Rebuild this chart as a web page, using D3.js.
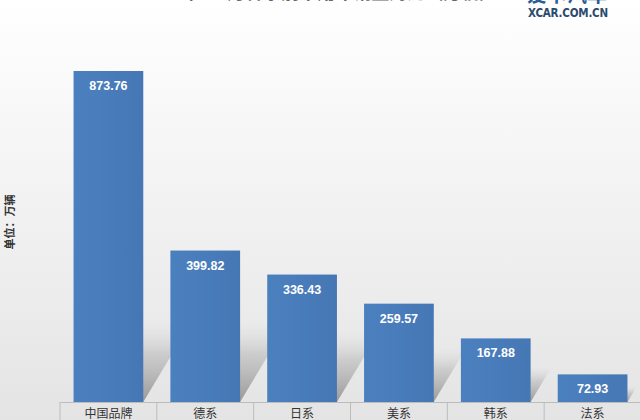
<!DOCTYPE html>
<html><head><meta charset="utf-8">
<script src="https://cdn.jsdelivr.net/npm/d3@7"></script>
<style>html,body{margin:0;padding:0;background:#fff;}svg{display:block;}</style>
</head><body>
<svg id="c" width="640" height="420"></svg>
<script>
const categories = ["中国品牌","德系","日系","美系","韩系","法系"];
const values = [873.76, 399.82, 336.43, 259.57, 167.88, 72.93];
const title = "2016年1-9月各系别乘用车销量对比（万辆）";
const yLabel = "单位：万辆";

const W = 640, H = 420;
const svg = d3.select("#c");
const defs = svg.append("defs");
const bg = defs.append("linearGradient").attr("id","bg").attr("x1",0).attr("y1",0).attr("x2",0).attr("y2",1);
bg.append("stop").attr("offset","0%").attr("stop-color","#ffffff");
bg.append("stop").attr("offset","100%").attr("stop-color","#e4e4e4");
const sh = defs.append("linearGradient").attr("id","sh").attr("x1",0).attr("y1",1).attr("x2",0).attr("y2",0);
sh.append("stop").attr("offset","0%").attr("stop-color","#8c8c8c").attr("stop-opacity",0.85);
sh.append("stop").attr("offset","60%").attr("stop-color","#aaaaaa").attr("stop-opacity",0.45);
sh.append("stop").attr("offset","100%").attr("stop-color","#d0d0d0").attr("stop-opacity",0);
const barG = defs.append("linearGradient").attr("id","barg").attr("x1",0).attr("y1",0).attr("x2",1).attr("y2",0);
barG.append("stop").attr("offset","0%").attr("stop-color","#4b80bf");
barG.append("stop").attr("offset","100%").attr("stop-color","#4677b5");

svg.append("rect").attr("width",W).attr("height",H).attr("fill","url(#bg)");

const x = d3.scaleBand().domain(categories).range([60, 641]).paddingInner(0.28).paddingOuter(0.14);
const xb = d3.scaleBand().domain(categories).range([60, 641]);
const y = d3.scaleLinear().domain([0, 873.76]).range([402, 71]);

// perspective shadows (sheared to the upper right)
const g = svg.append("g");
g.selectAll("path.sh").data(values).join("path")
  .attr("fill","url(#sh)")
  .attr("d",(d,i)=>{
    const x0 = x(categories[i]), bw = x.bandwidth(), b = y(0);
    const hgt = Math.min((b - y(d)) * 0.55, 80);
    const dx = hgt*0.6;
    return `M${x0},${b} L${x0+bw},${b} L${x0+bw+dx},${b-hgt} L${x0+dx},${b-hgt} Z`;
  });

// bars
g.selectAll("rect.bar").data(values).join("rect")
  .attr("x",(d,i)=>x(categories[i])).attr("width",x.bandwidth())
  .attr("y",d=>y(d)).attr("height",d=>y(0)-y(d))
  .attr("fill","url(#barg)");

g.selectAll("text.v").data(values).join("text")
  .attr("x",(d,i)=>x(categories[i])+x.bandwidth()/2)
  .attr("y",d=>y(d)+19)
  .attr("text-anchor","middle").attr("fill","#fff")
  .attr("font-family","'Liberation Sans', Arial, sans-serif").attr("font-weight","bold").attr("font-size",12.5)
  .text(d=>d.toFixed(2));

// axis
const axis = d3.axisBottom(xb).tickSize(0).tickPadding(7);
const ax = svg.append("g").attr("transform","translate(0,402)").call(axis);
ax.select(".domain").attr("stroke","#bcbcbc");
ax.selectAll("text").attr("font-family","'Noto Sans CJK SC', sans-serif").attr("font-size",12).attr("fill","#333");
svg.append("g").selectAll("line").data(categories.concat(["_end"])).join("line")
  .attr("x1",(d,i)=>60+i*xb.step()).attr("x2",(d,i)=>60+i*xb.step())
  .attr("y1",402).attr("y2",420).attr("stroke","#bcbcbc");

// y label
svg.append("text").attr("transform","translate(14,222) rotate(-90)")
  .attr("text-anchor","middle").attr("font-family","'Noto Sans CJK SC', sans-serif")
  .attr("font-weight","bold").attr("font-size",11).attr("fill","#333").text(yLabel);

// title (cut off at top)
svg.append("text").attr("x",318).attr("y",-1).attr("text-anchor","middle")
  .attr("font-family","'Noto Sans CJK SC', sans-serif").attr("font-weight","bold")
  .attr("font-size",18).attr("fill","#666").text(title);

// logo
svg.append("text").attr("x",567).attr("y",2).attr("text-anchor","middle")
  .attr("font-family","'Noto Sans CJK SC', sans-serif").attr("font-weight","bold")
  .attr("font-size",20).attr("fill","#2c5d94").text("爱卡汽车");
svg.append("text").attr("x",568).attr("y",17).attr("text-anchor","middle")
  .attr("font-family","'DejaVu Sans Condensed','DejaVu Sans', sans-serif").attr("font-weight","bold")
  .attr("font-size",11.5).attr("fill","#2a4a6e").attr("letter-spacing","-0.2").text("XCAR.COM.CN");
</script>
</body></html>
